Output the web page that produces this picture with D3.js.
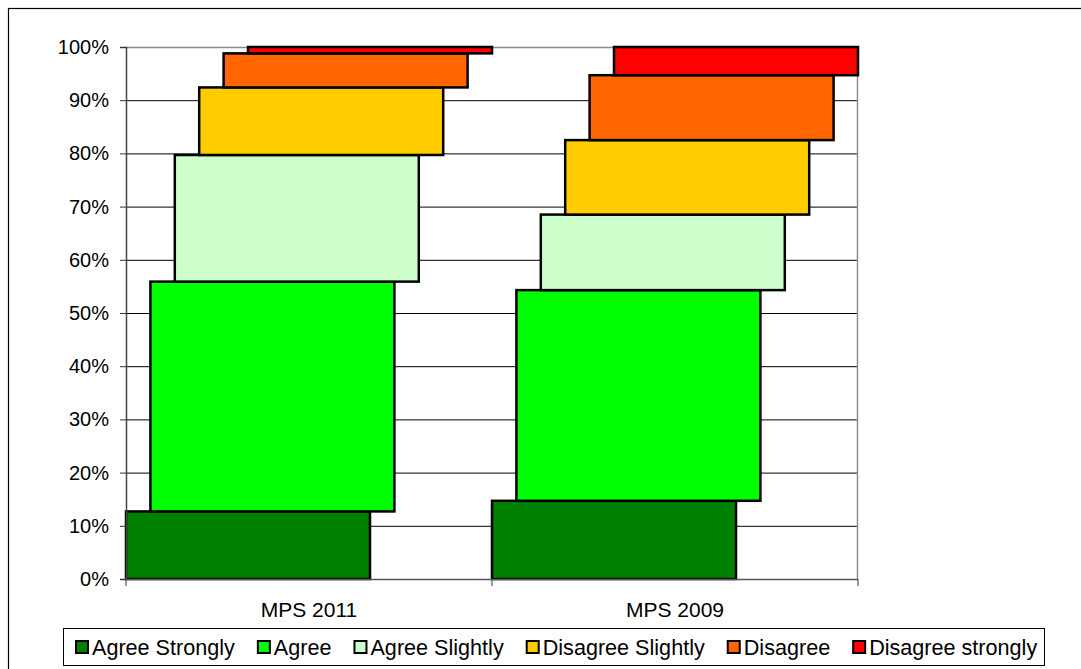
<!DOCTYPE html>
<html>
<head>
<meta charset="utf-8">
<script src="https://cdn.jsdelivr.net/npm/d3@7"></script>
<style>
  html, body { margin: 0; padding: 0; background: #fff; }
  svg { display: block; font-family: "Liberation Sans", Arial, sans-serif; }
</style>
</head>
<body>
<svg id="chart" width="1081" height="669"></svg>
<script>
// Survey categories and response breakdown (percent of respondents)
const categories = ["MPS 2011", "MPS 2009"];
const seriesNames = ["Agree Strongly", "Agree", "Agree Slightly", "Disagree Slightly", "Disagree", "Disagree strongly"];
const mps2011 = [12.7, 43.2, 23.8, 12.7, 6.4, 1.2];
const mps2009 = [14.7, 39.6, 14.2, 14.0, 12.2, 5.3];
const seriesColors = ["#008000", "#00ff00", "#ccffcc", "#ffcc00", "#ff6600", "#ff0000"];
const yTicks = [0, 10, 20, 30, 40, 50, 60, 70, 80, 90, 100];

const valuesByCategory = { "MPS 2011": mps2011, "MPS 2009": mps2009 };

const svg = d3.select("#chart");
const W = 1081, H = 669;
const plot = { left: 126, right: 858, top: 47, bottom: 579 };

// outer chart frame (extends past the right/bottom edge)
svg.append("rect")
  .attr("x", 8.5).attr("y", 8.5)
  .attr("width", W + 20).attr("height", H + 20)
  .attr("fill", "none").attr("stroke", "#000").attr("stroke-width", 1.2);

const x = d3.scaleBand().domain(categories).range([plot.left, plot.right]).padding(0);
const y = d3.scaleLinear().domain([0, 100]).range([plot.bottom, plot.top]);
// each response level is stepped to the right inside its category slot
const step = d3.scaleLinear().domain([0, seriesNames.length - 1]).range([0, x.bandwidth() / 3]);
const barWidth = x.bandwidth() * 2 / 3;

// gridlines
svg.append("g")
  .selectAll("line")
  .data(yTicks.filter(t => t > 0 && t < 100))
  .join("line")
  .attr("x1", plot.left).attr("x2", plot.right)
  .attr("y1", d => y(d) + 0.5).attr("y2", d => y(d) + 0.5)
  .attr("stroke", "#000").attr("stroke-width", 1);

// plot frame: top and right in grey
svg.append("path")
  .attr("d", `M${plot.left},${plot.top + 0.5}H${plot.right - 0.5}V${plot.bottom}`)
  .attr("fill", "none").attr("stroke", "#8c8c8c").attr("stroke-width", 1.5);

// stacked, stepped bars
const stacked = categories.map(cat => {
  let acc = 0;
  return valuesByCategory[cat].map((v, i) => {
    const seg = { cat, i, y0: acc, y1: acc + v };
    acc += v;
    return seg;
  });
});

const bars = svg.append("g");
seriesNames.forEach((name, i) => {
  bars.selectAll(null)
    .data(stacked.map(s => s[i]))
    .join("rect")
    .attr("x", d => x(d.cat) + step(d.i))
    .attr("width", barWidth)
    .attr("y", d => y(d.y1))
    .attr("height", d => y(d.y0) - y(d.y1))
    .attr("fill", seriesColors[i])
    .attr("stroke", "#000")
    .attr("stroke-width", 2.5);
});

// y axis
const yAxis = svg.append("g")
  .attr("transform", `translate(${plot.left},0)`)
  .call(d3.axisLeft(y).tickValues(yTicks).tickFormat(d => d + "%").tickSize(6).tickPadding(11));
yAxis.select(".domain").attr("stroke", "#444").attr("stroke-width", 1.5);
yAxis.selectAll(".tick line").attr("stroke", "#333").attr("stroke-width", 1);
yAxis.selectAll(".tick text")
  .attr("font-family", "Liberation Sans, Arial, sans-serif")
  .attr("font-size", 20).attr("fill", "#000");

// x axis with boundary ticks between categories
const xAxisG = svg.append("g");
xAxisG.append("line")
  .attr("x1", plot.left).attr("x2", plot.right)
  .attr("y1", plot.bottom + 0.5).attr("y2", plot.bottom + 0.5)
  .attr("stroke", "#555").attr("stroke-width", 1.5);
const boundaries = categories.map(c => x(c)).concat([x(categories[categories.length - 1]) + x.bandwidth()]);
xAxisG.selectAll("line.tk")
  .data(boundaries)
  .join("line")
  .attr("class", "tk")
  .attr("x1", d => d).attr("x2", d => d)
  .attr("y1", plot.bottom).attr("y2", plot.bottom + 7)
  .attr("stroke", "#555").attr("stroke-width", 1.2);
xAxisG.selectAll("text")
  .data(categories)
  .join("text")
  .attr("x", d => x(d) + x.bandwidth() / 2)
  .attr("y", 617)
  .attr("text-anchor", "middle")
  .attr("font-size", 21)
  .attr("fill", "#000")
  .text(d => d);

// legend
const legend = svg.append("g");
legend.append("rect")
  .attr("x", 63.5).attr("y", 628.5)
  .attr("width", 981).attr("height", 37)
  .attr("fill", "#fff").attr("stroke", "#000").attr("stroke-width", 1);

let lx = 76;
const ly = 647;
seriesNames.forEach((name, i) => {
  legend.append("rect")
    .attr("x", lx).attr("y", ly - 6)
    .attr("width", 12).attr("height", 12)
    .attr("fill", seriesColors[i])
    .attr("stroke", "#000").attr("stroke-width", 2);
  const t = legend.append("text")
    .attr("x", lx + 16)
    .attr("y", ly)
    .attr("dy", "0.35em")
    .attr("font-size", 21.6)
    .attr("fill", "#000")
    .text(name);
  lx += 16 + t.node().getComputedTextLength() + 23;
});
</script>
</body>
</html>
